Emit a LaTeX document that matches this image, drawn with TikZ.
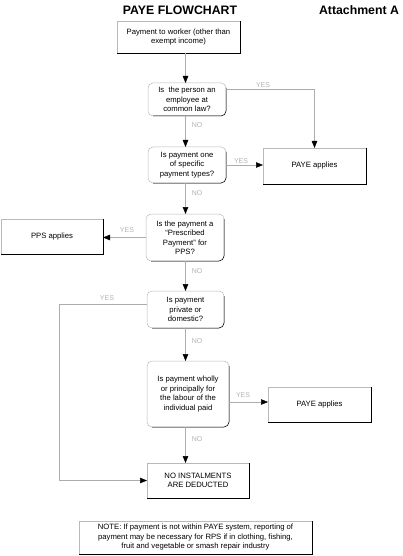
\documentclass[tikz,border=0pt]{standalone}
\usepackage{fontspec}
\setmainfont{Liberation Sans}
\usetikzlibrary{arrows.meta}
\tikzset{
  txt/.style={font=\fontsize{7.7}{9.5}\selectfont, align=center, inner sep=0pt, outer sep=0pt},
  sqbox/.style={txt, draw=gray!55, line width=0.5pt, minimum width=#1},
  rbox/.style={txt, draw=gray!55, line width=0.5pt, rounded corners=5pt, minimum width=#1},
  edgeblk/.style={draw=black, line width=0.5pt},
  conn/.style={draw=gray!65, line width=0.5pt, -{Triangle[length=7pt,width=5.5pt,color=black]}},
  lab/.style={font=\fontsize{7}{8}\selectfont, text=gray!60, inner sep=0pt},
  ttl/.style={font=\bfseries\fontsize{12.3}{14}\selectfont, inner sep=0pt}
}
\newcommand\sqedge[1]{\draw[edgeblk] (#1.north east) -- (#1.south east) -- (#1.south west);}
\newcommand\rdedge[1]{\draw[edgeblk, rounded corners=5pt] ([yshift=-5pt]#1.north east) -- (#1.south east) -- ([xshift=5pt]#1.south west);}
\begin{document}
\begin{tikzpicture}[x=1pt,y=-1pt]
\useasboundingbox (0,0) rectangle (403,556);
% titles
\node[ttl] (title) at (180,10) {PAYE FLOWCHART};
\node[ttl] (att) at (359,10) {Attachment A};
% boxes
\node[sqbox=123pt, minimum height=32pt] (box1) at (178.5,37) {Payment to worker (other than\\exempt income)};
\node[rbox=78pt, minimum height=33pt] (d1) at (187,99.5) {Is\ \ the person an\\employee at\\common law?};
\node[sqbox=103pt, minimum height=36pt] (paye1) at (314.5,166) {PAYE applies};
\node[rbox=78pt, minimum height=36pt] (d2) at (187,165) {Is payment one\\of specific\\payment types?};
\node[rbox=78pt, minimum height=47pt] (d3) at (185,237.5) {Is the payment a\\\textquotedblleft Prescribed\\Payment\textquotedblright\ for\\PPS?};
\node[sqbox=102pt, minimum height=35pt] (pps) at (52,236.5) {PPS applies};
\node[rbox=77pt, minimum height=37pt] (d4) at (185.5,309.5) {Is payment\\private or\\domestic?};
\node[rbox=82pt, minimum height=66pt] (d5) at (188,394) {Is payment wholly\\or principally for\\the labour of the\\individual paid};
\node[sqbox=103pt, minimum height=35pt] (paye2) at (319.5,404.5) {PAYE applies};
\node[sqbox=102pt, minimum height=35pt] (noinst) at (198,480.5) {NO INSTALMENTS\\ARE DEDUCTED};
\node[sqbox=233pt, minimum height=33pt] (note) at (195.5,537.5) {NOTE: If payment is not within PAYE system, reporting of\\payment may be necessary for RPS if in clothing, fishing,\\fruit and vegetable or smash repair industry};
% darker bottom/right edges
\sqedge{box1}\sqedge{paye1}\sqedge{pps}\sqedge{paye2}\sqedge{noinst}\sqedge{note}
\rdedge{d1}\rdedge{d2}\rdedge{d3}\rdedge{d4}\rdedge{d5}
% helper coordinates
\coordinate (sp) at (185.5,0);
\coordinate (y1) at (314.5,89);
\coordinate (c4) at (59,304);
\coordinate (c5) at (0,402);
% main spine
\draw[conn] (box1.south -| sp) -- (d1.north -| sp);
\draw[conn] (d1.south -| sp) -- (d2.north -| sp);
\draw[conn] (d2.south -| sp) -- (d3.north -| sp);
\draw[conn] (d3.south -| sp) -- (d4.north -| sp);
\draw[conn] (d4.south -| sp) -- (d5.north -| sp);
\draw[conn] (d5.south -| sp) -- (noinst.north -| sp);
% YES branches
\draw[conn] (d1.east |- y1) -- (y1) -- (paye1.north);
\draw[conn] (d2.east) -- (d2.east -| paye1.west);
\draw[conn] (d3.west) -- (d3.west -| pps.east);
\draw[conn] (d4.west |- c4) -- (c4) |- (noinst.west);
\draw[conn] (d5.east |- c5) -- (paye2.west |- c5);
% labels
\node[lab] (l1) at (263,85) {YES};
\node[lab] (l2) at (241,161) {YES};
\node[lab] (l3) at (127,230) {YES};
\node[lab] (l4) at (107,298) {YES};
\node[lab] (l5) at (243,395) {YES};
\node[lab] (n1) at (197,125) {NO};
\node[lab] (n2) at (197,193) {NO};
\node[lab] (n3) at (197,271) {NO};
\node[lab] (n4) at (197,341) {NO};
\node[lab] (n5) at (197,439) {NO};
\end{tikzpicture}
\end{document}
